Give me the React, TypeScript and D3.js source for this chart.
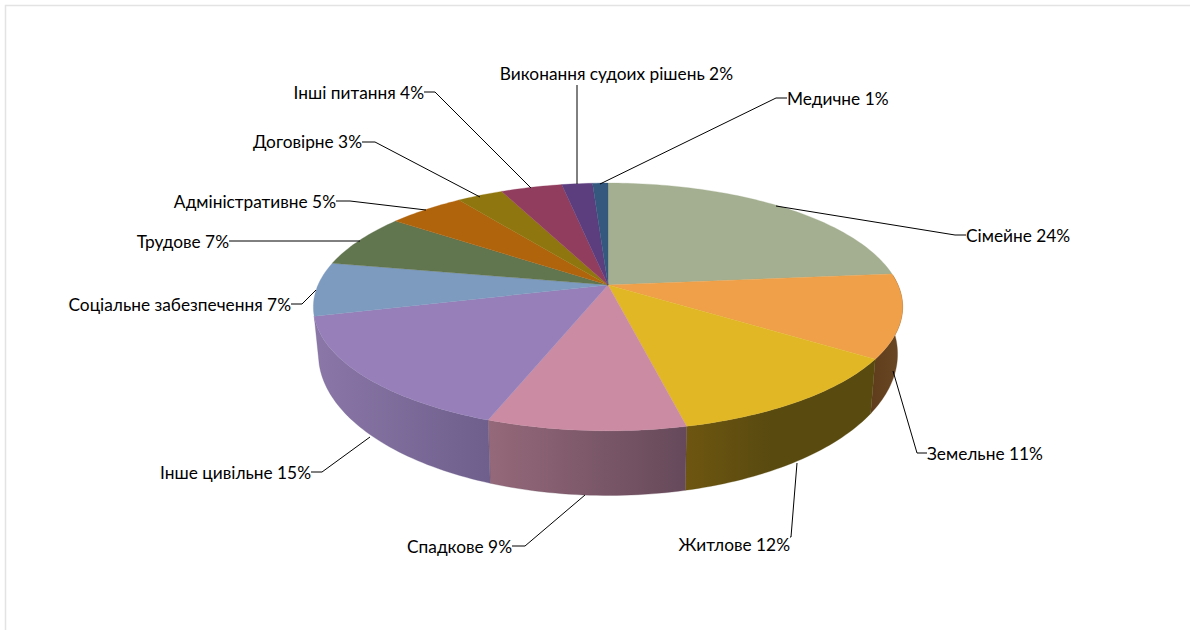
import * as d3 from 'd3';

const categories = [
  'Сімейне', 'Земельне', 'Житлове', 'Спадкове', 'Інше цивільне', 'Соціальне забезпечення',
  'Трудове', 'Адміністративне', 'Договірне', 'Інші питання', 'Виконання судоих рішень', 'Медичне',
];
// estimated from the slice boundaries, the labels show them rounded
const shares = [23.5, 10.9, 12, 9.2, 15.4, 7, 7, 5, 3, 4, 2, 1];
const topColors = [
  '#a3af90', '#efa048', '#e2b725', '#cb8ca3', '#9780b9', '#7d9abf',
  '#61754f', '#b0640c', '#90760e', '#913e5e', '#5c3e7f', '#34587e',
];
// wall shading, left to right
const wallColors: [string, string][] = [
  ['#6b7260', '#6b7260'], ['#5f3d1c', '#6a4825'], ['#6e5610', '#594a10'], ['#95697a', '#65495a'],
  ['#8b77a8', '#6e5f8c'], ['#5d7390', '#5d7390'], ['#47563a', '#47563a'], ['#7f4a0a', '#7f4a0a'],
  ['#6b570a', '#6b570a'], ['#6b2e45', '#6b2e45'], ['#442e5e', '#442e5e'], ['#26415d', '#26415d'],
];
const wallFade = [100, 100, 45, 100, 100, 100, 100, 100, 100, 100, 100, 100];

// label placement: [text x, baseline y, anchor side, elbow x, elbow y, pie end x, pie end y]
const labelLayout: [number, number, 'start' | 'end', number, number, number, number][] = [
  [966, 242, 'start', 955, 235, 776, 206],
  [927, 460, 'start', 917, 453, 893, 371],
  [790, 551, 'end', 791, 537, 797, 463],
  [512, 553, 'end', 525, 546, 585, 495],
  [311, 479, 'end', 322, 472, 370, 437],
  [291, 311, 'end', 302, 304, 316, 290],
  [229, 248, 'end', 229, 241, 360, 241],
  [336, 208, 'end', 350, 201, 426, 210],
  [362, 148, 'end', 375, 142, 480, 197],
  [424, 99, 'end', 435, 92, 531, 188],
  [733, 80, 'end', 577, 85, 577, 184],
  [787, 105, 'start', 776, 98, 600, 184],
];

const width = 1190;
const height = 630;

// perspective ellipse, angle measured clockwise from the back of the pie
const topPlane = { cx: 608, cy: 285, a: 290, b: 120, k: 0.177 };
const bottomPlane = { cx: 608, cy: 329, a: 285, b: 137, k: 0.177 };

type Plane = typeof topPlane;

function project(p: Plane, t: number): [number, number] {
  const w = 1 + p.k * Math.cos(t);
  return [p.cx + (p.a * Math.sin(t)) / w, p.cy - (p.b * Math.cos(t)) / w];
}

function sweep(t0: number, t1: number): number[] {
  const n = Math.max(2, Math.ceil((t1 - t0) / 0.02));
  return d3.range(n + 1).map(i => t0 + ((t1 - t0) * i) / n);
}

export default function App() {
  const arcs = d3.pie<number>().sort(null)(shares);
  const line = d3.line();
  const wallFrom = (85 * Math.PI) / 180;
  // the wall stops where the left rim turns away
  const wallTo = arcs[4].endAngle;

  const walls = arcs.map((d, i) => {
    const t0 = Math.max(d.startAngle, wallFrom);
    const t1 = Math.min(d.endAngle, wallTo);
    if (t1 <= t0) return null;
    const ts = sweep(t0, t1);
    const pts = [...ts.map(t => project(topPlane, t)), ...ts.reverse().map(t => project(bottomPlane, t))];
    const xs = d3.extent(pts, p => p[0]) as [number, number];
    return { i, d: line(pts) + 'Z', x0: xs[0], x1: xs[1] };
  }).filter(Boolean) as { i: number; d: string; x0: number; x1: number }[];

  return (
    <svg width={width} height={height} style={{ position: 'absolute', left: 0, top: 0, background: '#fff' }}>
      <defs>
        {walls.map(w => (
          <linearGradient key={w.i} id={`wall-${w.i}`} gradientUnits="userSpaceOnUse" x1={w.x0} x2={w.x1} y1={0} y2={0}>
            <stop offset="0%" stopColor={wallColors[w.i][0]} />
            <stop offset={`${wallFade[w.i]}%`} stopColor={wallColors[w.i][1]} />
          </linearGradient>
        ))}
      </defs>
      <path d={`M5.5,${height}V5.5H${width}`} fill="none" stroke="#e3e3e3" strokeWidth={1.5} />

      {walls.map(w => (
        <path key={w.i} d={w.d} fill={`url(#wall-${w.i})`} stroke={wallColors[w.i][1]} strokeWidth={0.3} />
      ))}
      {arcs.map((d, i) => {
        const pts = [[topPlane.cx, topPlane.cy] as [number, number], ...sweep(d.startAngle, d.endAngle).map(t => project(topPlane, t))];
        return <path key={i} d={line(pts) + 'Z'} fill={topColors[i]} stroke={topColors[i]} strokeWidth={0.3} />;
      })}

      {labelLayout.map(([tx, ty, anchor, ex, ey, px, py], i) => (
        <g key={i}>
          <path
            d={i === 10 ? line([[ex, ey], [px, py]])! : line([[tx, ey], [ex, ey], [px, py]])!}
            fill="none"
            stroke="#000"
            strokeWidth={1}
          />
          <text x={tx} y={ty} textAnchor={anchor} fontFamily="Lato, 'Open Sans', sans-serif" fontSize={17.3} fill="#000">
            {`${categories[i]} ${Math.round(shares[i])}%`}
          </text>
        </g>
      ))}
    </svg>
  );
}
